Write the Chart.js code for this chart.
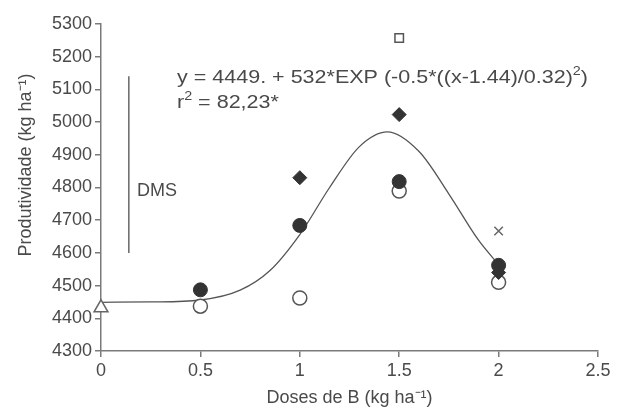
<!DOCTYPE html>
<html>
<head>
<meta charset="utf-8">
<script src="https://cdn.jsdelivr.net/npm/chart.js@4"></script>
<style>
    html, body { margin: 0; padding: 0; background: #fff; }
    #wrap { width: 618px; height: 414px; }
</style>
</head>
<body>
<div id="wrap"><canvas id="chart" width="618" height="414"></canvas></div>
<script>
"use strict";

// Data
var filledX = [0.5, 1, 1.5, 2];
var filledY = [4487, 4684, 4818, 4562];
var openX = [0.5, 1, 1.5, 2];
var openY = [4437, 4462, 4789, 4510];
var diamondX = [1, 1.5, 2];
var diamondY = [4830, 5023, 4540];
var triangleX = [0];
var triangleY = [4432];
var squareX = [1.5];
var squareY = [5257];
var crossX = [2];
var crossY = [4667];

// fitted curve, read at a few points
var curveX = [0, 0.25, 0.5, 0.7, 0.85, 1, 1.15, 1.3, 1.44, 1.6, 1.75, 1.9, 2];
var curveY = [4449, 4450, 4456, 4486, 4546, 4656, 4800, 4925, 4970, 4910, 4780, 4638, 4564];

// DMS bar
var dmsX = [0.14, 0.14];
var dmsY = [4600, 5140];

var xTicks = [0, 0.5, 1, 1.5, 2, 2.5];
var yTicks = [4300, 4400, 4500, 4600, 4700, 4800, 4900, 5000, 5100, 5200, 5300];

var textColor = '#4a4a4a';
var axisColor = '#7a7a7a';
var markColor = '#333333';
var fontFamily = "'Liberation Sans', Arial, sans-serif";

var toPoints = function (xs, ys) {
    return xs.map(function (x, i) { return { x: x, y: ys[i] }; });
};

// draws text pieces, some as superscript, stretched by sx
var drawRich = function (ctx, parts, x, y, sx) {
    ctx.save();
    ctx.translate(x, y);
    ctx.scale(sx, 1);
    var cx = 0;
    parts.forEach(function (p) {
        ctx.font = (p.sup ? '12px ' : '18px ') + fontFamily;
        ctx.fillText(p.t, cx, p.sup ? -6 : 0);
        cx += ctx.measureText(p.t).width;
    });
    ctx.restore();
};

var richWidth = function (ctx, parts) {
    var w = 0;
    parts.forEach(function (p) {
        ctx.font = (p.sup ? '12px ' : '18px ') + fontFamily;
        w += ctx.measureText(p.t).width;
    });
    return w;
};

var textPlugin = {
    id: 'labels',
    afterDraw: function (chart) {
        var ctx = chart.ctx;
        ctx.save();
        ctx.fillStyle = textColor;
        ctx.textBaseline = 'middle';
        ctx.textAlign = 'left';

        var eq = [
            { t: 'y = 4449. + 532*EXP (-0.5*((x-1.44)/0.32)', sup: false },
            { t: '2', sup: true },
            { t: ')', sup: false }
        ];
        var r2 = [
            { t: 'r', sup: false },
            { t: '2', sup: true },
            { t: ' = 82,23*', sup: false }
        ];
        var sx = 411 / richWidth(ctx, eq);
        drawRich(ctx, eq, 177, 78, sx);
        drawRich(ctx, r2, 177, 103, sx);

        ctx.font = '18px ' + fontFamily;
        ctx.fillText('DMS', 137, 191);

        // y axis title
        ctx.translate(26, 165);
        ctx.rotate(-Math.PI / 2);
        ctx.textAlign = 'center';
        ctx.fillText('Produtividade (kg ha\u207B\u00B9)', 0, 0);
        ctx.restore();
    }
};

var config = {
    type: 'scatter',
    data: {
        datasets: [
            {
                label: 'filled',
                data: toPoints(filledX, filledY),
                pointStyle: 'circle',
                pointRadius: 7,
                backgroundColor: markColor,
                borderColor: markColor,
                borderWidth: 1,
                clip: false
            },
            {
                label: 'diamond',
                data: toPoints(diamondX, diamondY),
                pointStyle: 'rectRot',
                pointRadius: 7,
                backgroundColor: markColor,
                borderColor: markColor,
                borderWidth: 1,
                clip: false
            },
            {
                label: 'open',
                data: toPoints(openX, openY),
                pointStyle: 'circle',
                pointRadius: 7,
                backgroundColor: '#ffffff',
                borderColor: '#555555',
                borderWidth: 1.5,
                clip: false
            },
            {
                label: 'triangle',
                data: toPoints(triangleX, triangleY),
                pointStyle: 'triangle',
                pointRadius: 8,
                backgroundColor: '#ffffff',
                borderColor: '#666666',
                borderWidth: 1.5,
                clip: false
            },
            {
                label: 'square',
                data: toPoints(squareX, squareY),
                pointStyle: 'rect',
                pointRadius: 6,
                backgroundColor: '#ffffff',
                borderColor: '#555555',
                borderWidth: 1.5,
                clip: false
            },
            {
                label: 'cross',
                data: toPoints(crossX, crossY),
                pointStyle: 'crossRot',
                pointRadius: 6,
                borderColor: '#666666',
                borderWidth: 1.5,
                clip: false
            },
            {
                label: 'curve',
                type: 'line',
                data: toPoints(curveX, curveY),
                borderColor: '#555555',
                borderWidth: 1.3,
                pointRadius: 0,
                cubicInterpolationMode: 'monotone',
                fill: false
            },
            {
                label: 'DMS',
                type: 'line',
                data: toPoints(dmsX, dmsY),
                borderColor: '#666666',
                borderWidth: 1.5,
                pointRadius: 0,
                fill: false
            }
        ]
    },
    options: {
        responsive: false,
        animation: false,
        layout: {
            padding: { top: 24, right: 20, bottom: 0, left: 0 }
        },
        plugins: {
            legend: { display: false },
            tooltip: { enabled: false },
            title: { display: false }
        },
        scales: {
            x: {
                type: 'linear',
                min: 0,
                max: 2.5,
                afterBuildTicks: function (scale) {
                    scale.ticks = xTicks.map(function (v) { return { value: v }; });
                },
                afterFit: function (scale) {
                    scale.height = 63;
                },
                grid: {
                    drawOnChartArea: false,
                    drawTicks: true,
                    tickLength: 6,
                    color: axisColor,
                    lineWidth: 1.5
                },
                border: { color: axisColor, width: 1.5 },
                ticks: {
                    color: textColor,
                    padding: 3,
                    font: { family: fontFamily, size: 18 },
                    callback: function (v) { return String(v); }
                },
                title: {
                    display: true,
                    text: 'Doses de B (kg ha\u207B\u00B9)',
                    color: textColor,
                    font: { family: fontFamily, size: 18 },
                    padding: { top: 0, bottom: 5 }
                }
            },
            y: {
                type: 'linear',
                min: 4300,
                max: 5300,
                afterBuildTicks: function (scale) {
                    scale.ticks = yTicks.map(function (v) { return { value: v }; });
                },
                afterFit: function (scale) {
                    scale.width = 101;
                },
                grid: {
                    drawOnChartArea: false,
                    drawTicks: true,
                    tickLength: 6,
                    color: axisColor,
                    lineWidth: 1.5
                },
                border: { color: axisColor, width: 1.5 },
                ticks: {
                    color: textColor,
                    padding: 3,
                    font: { family: fontFamily, size: 18 },
                    callback: function (v) { return String(v); }
                }
            }
        }
    },
    plugins: [textPlugin]
};

var ctx = document.getElementById('chart').getContext('2d');
var chartInstance = new Chart(ctx, config);
</script>
</body>
</html>
